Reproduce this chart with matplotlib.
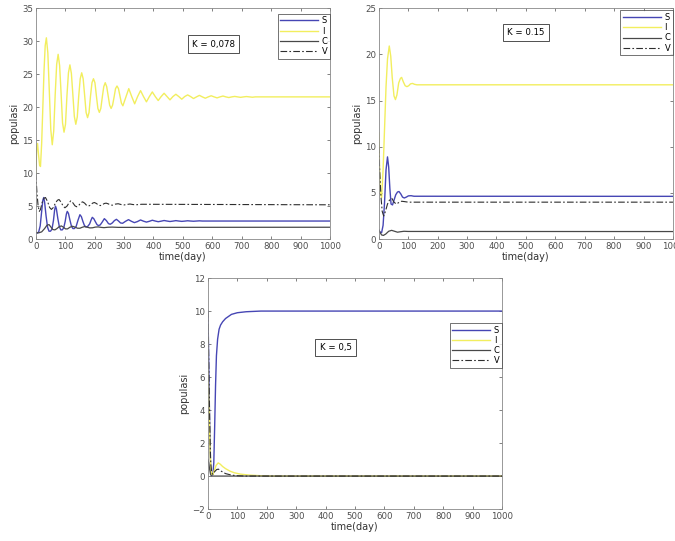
import matplotlib
matplotlib.use("Agg")
import matplotlib.pyplot as plt

# ---- K = 0,078 ----
t1_I = [0, 3, 6, 9, 13, 16, 20, 24, 28, 32, 36, 41, 46, 51, 56, 61, 66, 71, 76, 81, 86, 91, 96,
        101, 106, 111, 116, 121, 126, 131, 136, 141, 146, 151, 156, 161, 166, 171, 176, 181, 186,
        191, 196, 201, 206, 211, 216, 221, 226, 231, 236, 241, 246, 251, 256, 261, 266, 271, 276,
        281, 286, 291, 296, 306, 316, 326, 336, 346, 356, 366, 376, 386, 396, 406, 416, 426, 436,
        446, 456, 466, 476, 486, 496, 506, 516, 526, 536, 546, 556, 566, 576, 586, 596, 606, 616,
        626, 636, 646, 656, 666, 676, 686, 696, 706, 716, 726, 736, 746, 1000]
I1 = [10.0, 13.5, 14.5, 13.0, 11.2, 11.0, 14.5, 20.0, 25.5, 29.3, 30.5, 28.2, 22.4, 16.6, 14.3,
      16.4, 21.9, 26.5, 28.0, 26.3, 22.1, 17.6, 16.2, 17.4, 21.8, 25.2, 26.4, 25.1, 21.9, 18.6,
      17.4, 18.5, 21.7, 24.3, 25.2, 24.3, 21.8, 19.2, 18.4, 19.2, 21.7, 23.7, 24.3, 23.7, 21.7,
      19.8, 19.2, 19.8, 21.5, 23.1, 23.7, 23.1, 21.7, 20.3, 19.8, 20.3, 21.5, 22.8, 23.2, 22.8,
      21.7, 20.6, 20.2, 21.5, 22.8, 21.6, 20.5, 21.6, 22.5, 21.6, 20.8, 21.6, 22.3, 21.6, 21.0,
      21.6, 22.1, 21.6, 21.1, 21.6, 21.95, 21.6, 21.2, 21.6, 21.85, 21.6, 21.3, 21.55, 21.78,
      21.55, 21.35, 21.55, 21.72, 21.55, 21.4, 21.55, 21.68, 21.55, 21.45, 21.55, 21.62, 21.55,
      21.48, 21.55, 21.6, 21.55, 21.5, 21.55, 21.55]

t1_S = [0, 5, 10, 15, 20, 24, 27, 30, 35, 40, 45, 50, 55, 60, 64, 67, 70, 75, 80, 85, 90, 95,
        100, 104, 107, 111, 116, 121, 126, 131, 137, 143, 150, 155, 160, 165, 170, 176, 183, 188,
        192, 197, 203, 208, 213, 219, 226, 233, 240, 247, 253, 260, 267, 274, 281, 288, 295, 305,
        315, 325, 335, 345, 356, 366, 376, 386, 396, 406, 416, 426, 436, 446, 456, 466, 476, 486,
        496, 506, 516, 526, 536, 546, 556, 566, 1000]
S1 = [1.0, 0.9, 1.1, 2.0, 4.2, 5.9, 6.3, 5.6, 3.5, 1.8, 1.2, 1.2, 1.5, 2.8, 4.4, 5.0, 4.6, 3.1,
      1.9, 1.4, 1.4, 1.7, 2.7, 3.8, 4.2, 3.9, 2.9, 2.0, 1.6, 1.6, 1.9, 2.8, 3.7, 3.4, 2.7, 2.1,
      1.85, 1.9, 2.3, 2.9, 3.3, 3.1, 2.6, 2.2, 2.05, 2.15, 2.6, 3.1, 2.8, 2.35, 2.25, 2.45, 2.8,
      3.0, 2.75, 2.45, 2.4, 2.7, 2.95, 2.7, 2.5, 2.65, 2.9, 2.72, 2.58, 2.7, 2.86, 2.74, 2.64,
      2.72, 2.82, 2.74, 2.67, 2.73, 2.8, 2.74, 2.69, 2.73, 2.78, 2.74, 2.71, 2.74, 2.77, 2.74, 2.74]

t1_C = [0, 10, 20, 30, 38, 45, 52, 58, 65, 72, 80, 87, 94, 101, 108, 116, 125, 134, 142, 150,
        158, 166, 175, 184, 193, 202, 212, 222, 232, 245, 260, 280, 1000]
C1 = [1.0, 0.95, 1.1, 1.6, 2.1, 2.2, 1.8, 1.45, 1.4, 1.6, 1.9, 2.0, 1.8, 1.55, 1.55, 1.8, 1.95,
      1.8, 1.65, 1.65, 1.8, 1.9, 1.8, 1.7, 1.72, 1.82, 1.85, 1.78, 1.74, 1.8, 1.82, 1.78, 1.8]

t1_V = [0, 4, 8, 12, 16, 22, 28, 33, 40, 47, 53, 60, 67, 74, 79, 86, 93, 99, 106, 113, 119, 126,
        133, 139, 146, 153, 159, 166, 173, 179, 186, 193, 199, 206, 213, 219, 226, 233, 239, 246,
        253, 260, 270, 280, 290, 300, 310, 320, 330, 340, 350, 360, 1000]
V1 = [10.0, 7.0, 5.0, 4.2, 4.5, 5.6, 6.2, 6.3, 5.7, 4.8, 4.5, 4.8, 5.5, 5.9, 6.0, 5.6, 5.0, 4.75,
      5.0, 5.5, 5.8, 5.5, 5.05, 4.9, 5.1, 5.5, 5.65, 5.45, 5.1, 5.0, 5.15, 5.45, 5.55, 5.4, 5.15,
      5.08, 5.2, 5.4, 5.45, 5.35, 5.18, 5.14, 5.3, 5.36, 5.24, 5.18, 5.25, 5.32, 5.24, 5.2, 5.24,
      5.28, 5.2]

# ---- K = 0.15 ----
t2_I = [0, 3, 6, 10, 15, 20, 25, 30, 36, 41, 46, 52, 57, 62, 68, 74, 78, 84, 90, 96, 102, 108,
        115, 122, 130, 1000]
I2 = [11.5, 8.0, 5.0, 4.5, 7.5, 12.0, 16.5, 19.5, 20.9, 19.8, 17.5, 15.5, 15.1, 15.6, 16.9,
      17.4, 17.5, 17.0, 16.6, 16.5, 16.6, 16.8, 16.85, 16.75, 16.7, 16.7]

t2_S = [0, 5, 10, 15, 20, 25, 30, 34, 38, 42, 47, 52, 58, 64, 69, 75, 81, 87, 94, 101, 110, 120,
        1000]
S2 = [1.0, 0.75, 0.7, 1.5, 4.0, 7.5, 8.9, 7.8, 5.5, 3.8, 3.7, 4.2, 4.8, 5.1, 5.15, 4.9, 4.55,
      4.45, 4.55, 4.68, 4.7, 4.64, 4.63]

t2_C = [0, 5, 10, 16, 24, 34, 44, 54, 64, 74, 86, 100, 1000]
C2 = [1.0, 0.7, 0.45, 0.4, 0.55, 0.85, 0.95, 0.85, 0.75, 0.8, 0.85, 0.83, 0.82]

t2_V = [0, 4, 8, 12, 17, 23, 30, 38, 45, 52, 60, 68, 78, 90, 100, 1000]
V2 = [10.0, 7.0, 4.5, 3.0, 2.5, 3.0, 3.8, 4.3, 4.4, 4.0, 3.8, 3.95, 4.1, 4.05, 4.0, 4.0]

# ---- K = 0,5 ----
t3_S = [0, 2, 4, 6, 8, 10, 13, 17, 20, 23, 26, 29, 33, 38, 43, 50, 60, 80, 100, 130, 180, 1000]
S3 = [10.0, 8.0, 5.5, 3.0, 1.2, 0.3, 0.05, 0.1, 0.8, 3.0, 5.5, 7.3, 8.3, 8.9, 9.15, 9.35, 9.55,
      9.8, 9.9, 9.96, 10.0, 10.0]

t3_I = [0, 2, 4, 6, 8, 10, 13, 17, 22, 28, 35, 42, 50, 60, 75, 90, 110, 140, 180, 220, 1000]
I3 = [6.5, 5.5, 4.0, 2.5, 1.2, 0.4, 0.1, 0.1, 0.35, 0.65, 0.8, 0.72, 0.58, 0.45, 0.3, 0.2, 0.12,
      0.06, 0.02, 0.0, 0.0]

t3_C = [0, 3, 6, 9, 12, 1000]
C3 = [1.0, 0.8, 0.4, 0.1, 0.0, 0.0]

t3_V = [0, 2, 4, 6, 8, 10, 13, 17, 22, 30, 36, 45, 60, 80, 100, 130, 1000]
V3 = [10.0, 8.0, 5.5, 3.5, 1.8, 0.7, 0.2, 0.1, 0.25, 0.4, 0.42, 0.3, 0.15, 0.06, 0.02, 0.0, 0.0]

COL_S = '#4646b4'
COL_I = '#f2ee5e'
COL_C = '#484848'
COL_V = '#2e2e2e'
GRAY = '#4d4d4d'

panels = [
    dict(rect=[0.053, 0.558, 0.436, 0.427], ylim=(0, 35), yticks=range(0, 36, 5),
         data=[(t1_S, S1), (t1_I, I1), (t1_C, C1), (t1_V, V1)],
         label="K = 0,078", lab_xy=(0.604, 0.844), leg_anchor=(1.0, 0.975)),
    dict(rect=[0.561, 0.558, 0.436, 0.427], ylim=(0, 25), yticks=range(0, 26, 5),
         data=[(t2_S, S2), (t2_I, I2), (t2_C, C2), (t2_V, V2)],
         label="K = 0.15", lab_xy=(0.50, 0.894), leg_anchor=(1.0, 0.99)),
    dict(rect=[0.308, 0.059, 0.436, 0.427], ylim=(-2, 12), yticks=range(-2, 13, 2),
         data=[(t3_S, S3), (t3_I, I3), (t3_C, C3), (t3_V, V3)],
         label="K = 0,5", lab_xy=(0.434, 0.70), leg_anchor=(1.0, 0.805)),
]

fig = plt.figure(figsize=(6.75, 5.41), dpi=100)

for p in panels:
    ax = fig.add_axes(p['rect'])
    (ts, s), (ti, i), (tc, c), (tv, v) = p['data']
    ax.plot(ts, s, color=COL_S, lw=1.0, label='S')
    ax.plot(ti, i, color=COL_I, lw=1.0, label='I')
    ax.plot(tc, c, color=COL_C, lw=0.9, label='C')
    ax.plot(tv, v, color=COL_V, lw=0.8, dashes=(6, 2, 1.5, 2), label='V')

    ax.set_xlim(0, 1000)
    ax.set_ylim(*p['ylim'])
    ax.set_xticks(range(0, 1001, 100))
    ax.set_yticks(list(p['yticks']))
    ax.tick_params(direction='in', top=True, right=True, labelsize=6.2,
                   colors=GRAY, length=2.5, width=0.5, pad=2)
    for sp in ax.spines.values():
        sp.set_color('#888888')
        sp.set_linewidth(0.6)
    ax.set_xlabel('time(day)', fontsize=7, color='#333333', labelpad=1)
    ax.set_ylabel('populasi', fontsize=7, color='#333333', labelpad=2)

    leg = ax.legend(loc='upper right', bbox_to_anchor=p['leg_anchor'], fontsize=6,
                    handlelength=4.6, handletextpad=0.4, borderpad=0.3, labelspacing=0.15,
                    fancybox=False, borderaxespad=0)
    leg.get_frame().set_edgecolor('#333333')
    leg.get_frame().set_linewidth(0.6)

    ax.text(p['lab_xy'][0], p['lab_xy'][1], p['label'], transform=ax.transAxes,
            ha='center', va='center', fontsize=6.2,
            bbox=dict(boxstyle='square,pad=0.5', fc='white', ec='#333333', lw=0.6))

fig.savefig('out.png', dpi=100)
